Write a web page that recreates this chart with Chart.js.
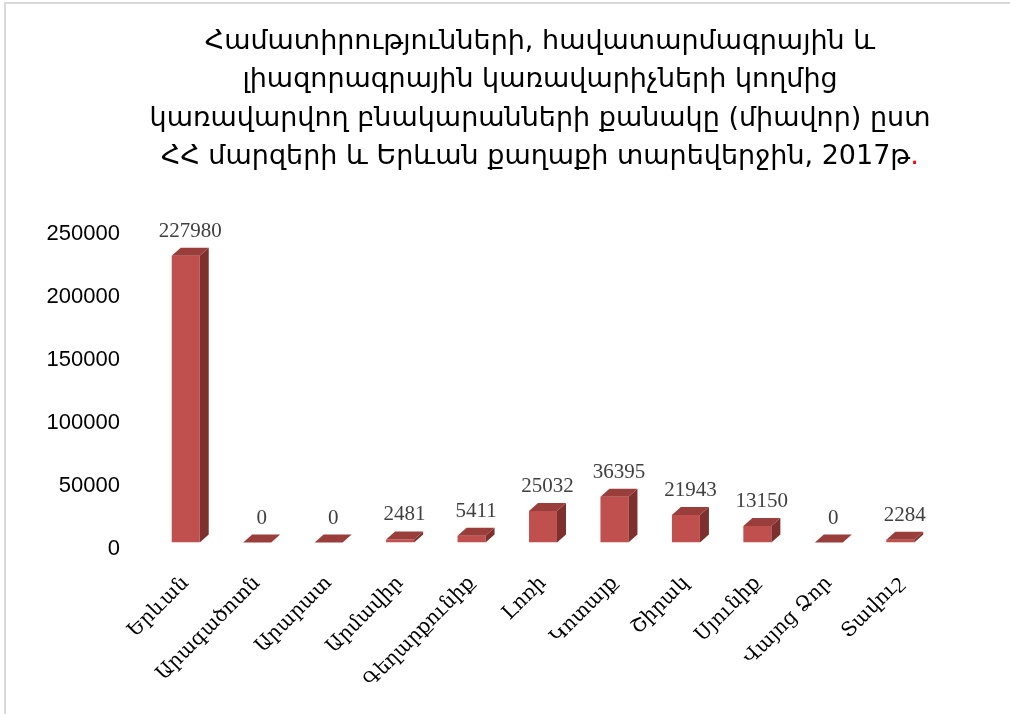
<!DOCTYPE html>
<html>
<head>
<meta charset="utf-8">
<script src="https://cdn.jsdelivr.net/npm/chart.js@4"></script>
<style>
  html, body { margin: 0; padding: 0; background: #fff; }
  #wrap { width: 1010px; height: 714px; position: relative; }
</style>
</head>
<body>
<div id="wrap"><canvas id="chart" width="1010" height="714"></canvas></div>
<script>
const titleLines = [
  'Համատիրությունների, հավատարմագրային և',
  'լիազորագրային կառավարիչների կողմից',
  'կառավարվող բնակարանների քանակը (միավոր) ըստ',
  'ՀՀ մարզերի և Երևան քաղաքի տարեվերջին, 2017թ.'
];
const regions = ['Երևան', 'Արագածոտն', 'Արարատ', 'Արմավիր', 'Գեղարքունիք', 'Լոռի',
  'Կոտայք', 'Շիրակ', 'Սյունիք', 'Վայոց Ձոր', 'Տավուշ'];
const flats = [227980, 0, 0, 2481, 5411, 25032, 36395, 21943, 13150, 0, 2284];
const yTicks = [0, 50000, 100000, 150000, 200000, 250000];

const frontColor = '#C0504D';
const topColor = '#9A3E3B';
const sideColor = '#7E302E';

// frame + title with the red dot at the end
const frameTitle = {
  id: 'frameTitle',
  beforeDraw(chart) {
    const ctx = chart.ctx;
    ctx.save();
    ctx.strokeStyle = '#D9D9D9';
    ctx.lineWidth = 2;
    ctx.strokeRect(5, 3, 1100, 800);
    ctx.font = '27px "DejaVu Sans"';
    ctx.textBaseline = 'middle';
    ctx.fillStyle = '#000';
    const cx = 540;
    titleLines.forEach(function(line, i) {
      const y = 42 + i * 38.3;
      if (i === titleLines.length - 1) {
        const body = line.slice(0, -1);
        const w = ctx.measureText(line).width;
        const x0 = cx - w / 2;
        ctx.textAlign = 'left';
        ctx.fillText(body, x0, y);
        ctx.fillStyle = '#FF0000';
        ctx.fillText('.', x0 + ctx.measureText(body).width, y);
        ctx.fillStyle = '#000';
      } else {
        ctx.textAlign = 'center';
        ctx.fillText(line, cx, y);
      }
    });
    ctx.restore();
  }
};

// top and side faces of the 3D bars, plus the value labels
const bars3d = {
  id: 'bars3d',
  afterDatasetsDraw(chart) {
    const ctx = chart.ctx;
    const meta = chart.getDatasetMeta(0);
    const dx = 9, dy = 8;
    ctx.save();
    meta.data.forEach(function(bar, i) {
      const l = bar.x - bar.width / 2, r = bar.x + bar.width / 2;
      const t = bar.y, b = bar.base;
      ctx.fillStyle = sideColor;
      ctx.beginPath();
      ctx.moveTo(r, t); ctx.lineTo(r + dx, t - dy); ctx.lineTo(r + dx, b - dy); ctx.lineTo(r, b);
      ctx.closePath(); ctx.fill();
      ctx.fillStyle = topColor;
      ctx.beginPath();
      ctx.moveTo(l, t); ctx.lineTo(l + dx, t - dy); ctx.lineTo(r + dx, t - dy); ctx.lineTo(r, t);
      ctx.closePath(); ctx.fill();
      ctx.fillStyle = '#404040';
      ctx.font = '21px "Liberation Serif"';
      ctx.textAlign = 'center';
      ctx.textBaseline = 'alphabetic';
      ctx.fillText(String(flats[i]), bar.x + dx / 2, t - dy - 11);
    });
    ctx.restore();
  }
};

new Chart(document.getElementById('chart'), {
  type: 'bar',
  data: {
    labels: regions,
    datasets: [{
      data: flats,
      backgroundColor: frontColor,
      borderWidth: 0,
      barPercentage: 0.8,
      categoryPercentage: 0.49
    }]
  },
  options: {
    responsive: false,
    animation: false,
    layout: { padding: { top: 228, left: 0, right: 74, bottom: 0 } },
    plugins: { legend: { display: false }, title: { display: false }, tooltip: { enabled: false } },
    scales: {
      x: {
        grid: { display: false, drawTicks: false },
        border: { display: false },
        ticks: {
          autoSkip: false,
          minRotation: 45,
          maxRotation: 45,
          padding: 29,
          color: '#000',
          font: { family: '"DejaVu Serif"', size: 20 }
        },
        afterFit(scale) { scale.height = 171.5; }
      },
      y: {
        min: 0,
        max: 250000,
        grid: { display: false, drawTicks: false },
        border: { display: false },
        afterBuildTicks(scale) { scale.ticks = yTicks.map(v => ({ value: v })); },
        ticks: {
          padding: 30,
          labelOffset: 6,
          color: '#000',
          font: { family: '"Liberation Sans"', size: 22 },
          callback: v => String(v)
        },
        afterFit(scale) { scale.width = 150; }
      }
    }
  },
  plugins: [frameTitle, bars3d]
});
</script>
</body>
</html>
